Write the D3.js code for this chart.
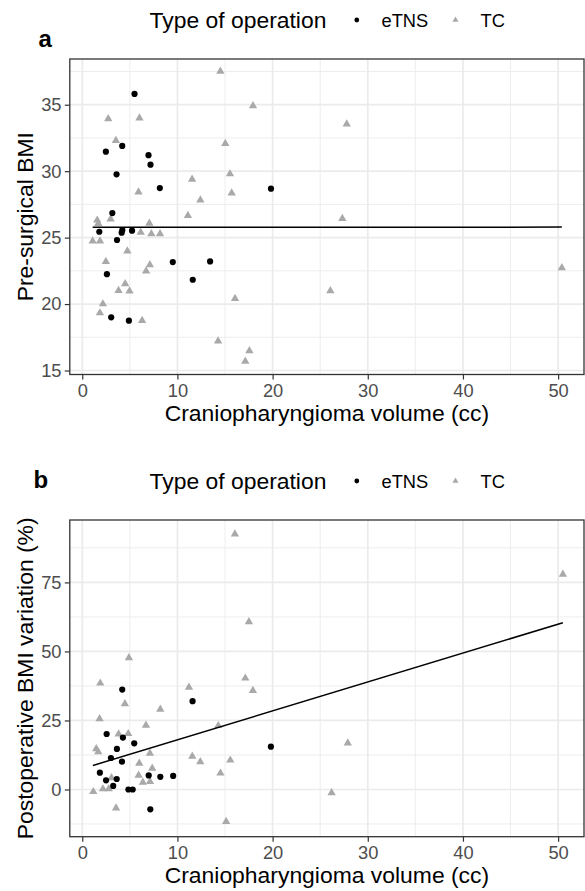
<!DOCTYPE html>
<html lang="en">
<head>
  <meta charset="UTF-8">
  <title>BMI vs craniopharyngioma volume</title>
  <script src="https://d3js.org/d3.v7.min.js"></script>
  <style>
    body { margin: 0; background: #fff; }
    svg { display: block; font-family: "Liberation Sans", Arial, Helvetica, sans-serif; }
  </style>
</head>
<body>
<svg></svg>
<script>
  // panel a: pre-surgical BMI
  const etnsVolA = [5.49, 4.20, 2.48, 6.96, 7.17, 3.60, 8.15, 19.83, 3.16, 1.79,
                    4.21, 4.14, 5.23, 3.65, 9.51, 13.43, 2.59, 11.61, 3.04, 4.90]
  const etnsBmiA = [35.81, 31.90, 31.47, 31.20, 30.49, 29.76, 28.73, 28.68, 26.85, 25.44,
                    25.57, 25.37, 25.52, 24.82, 23.16, 23.21, 22.25, 21.83, 19.00, 18.75]
  const tcVolA = [14.51, 17.94, 2.73, 6.01, 3.53, 15.03, 11.54, 15.52, 5.91, 15.70,
                  12.41, 11.10, 27.79, 27.33, 1.57, 1.68, 2.98, 7.05, 6.14, 7.26,
                  8.17, 1.09, 1.86, 4.74, 2.48, 7.10, 6.71, 4.51, 3.81, 4.97,
                  16.05, 26.07, 50.39, 2.17, 1.85, 6.29, 14.27, 17.56, 17.13]
  const tcBmiA = [37.52, 34.92, 33.94, 33.99, 32.30, 32.08, 29.38, 29.79, 28.43, 28.35,
                  27.82, 26.66, 33.54, 26.44, 26.31, 26.06, 26.40, 26.08, 25.40, 25.29,
                  25.29, 24.74, 24.74, 23.99, 23.19, 22.96, 22.48, 21.52, 21.02, 20.97,
                  20.42, 20.99, 22.73, 20.01, 19.33, 18.75, 17.22, 16.48, 15.69]
  const fitVolA = [1.09, 50.39]
  const fitBmiA = [25.78, 25.79]

  // panel b: postoperative BMI variation (%)
  const etnsVolB = [4.20, 11.59, 2.56, 4.27, 5.46, 3.64, 3.01, 4.17, 19.82, 1.85,
                    2.50, 3.25, 3.62, 6.98, 8.20, 9.55, 4.85, 5.30, 7.15]
  const etnsVarB = [36.2, 32.0, 20.1, 18.8, 16.7, 14.7, 11.4, 10.1, 15.5, 6.1,
                    3.3, 1.3, 3.8, 5.1, 4.6, 4.9, 0, 0, -7.2]
  const tcVolB = [16.04, 17.51, 4.90, 17.13, 1.89, 11.21, 17.93, 4.48, 8.20, 1.82,
                  6.69, 14.29, 3.82, 4.83, 1.47, 1.68, 7.11, 5.99, 11.56, 12.40,
                  15.55, 7.35, 14.52, 3.07, 5.92, 6.37, 7.12, 1.16, 2.17, 2.78,
                  3.55, 15.12, 50.50, 27.90, 26.20]
  const tcVarB = [92.5, 60.7, 47.7, 40.3, 38.5, 37.0, 35.8, 31.0, 29.0, 25.6,
                  23.2, 23.1, 20.1, 20.2, 14.7, 13.6, 13.1, 9.5, 12.0, 10.0,
                  10.6, 7.7, 5.9, 4.2, 5.1, 2.6, 2.9, -0.8, 0.2, 0.2,
                  -6.7, -11.6, 77.9, 16.8, -1.2]
  const fitVolB = [1.12, 50.50]
  const fitVarB = [8.7, 60.4]

  const xTicks = [0, 10, 20, 30, 40, 50]
  const yTicksA = [15, 20, 25, 30, 35]
  const yTicksB = [0, 25, 50, 75]
  const groups = ['eTNS', 'TC']

  const width = 585, height = 891
  const font = '"Liberation Sans", Arial, Helvetica, sans-serif'
  const colour = {eTNS: '#000000', TC: '#A9A9A9'}

  const svg = d3.select('svg')
      .attr('width', width)
      .attr('height', height)
      .attr('viewBox', [0, 0, width, height])

  const x = d3.scaleLinear()
      .domain([-1.31, 52.72])
      .range([69.8, 584])

  const triangle = d3.symbol().type(d3.symbolTriangle)

  function zip(xs, ys) {
    return xs.map((v, i) => ({x: v, y: ys[i]}))
  }

  function minors(ticks, domain) {
    const step = ticks[1] - ticks[0]
    const out = []
    for (let v = ticks[0] - step / 2; v <= ticks[ticks.length - 1] + step; v += step) {
      if (v > domain[0] && v < domain[1]) out.push(v)
    }
    return out
  }

  function panel(opt) {
    const y = d3.scaleLinear().domain(opt.yDomain).range([opt.bottom, opt.top])
    const g = svg.append('g')
    const [x0, x1] = x.range()

    // grid
    const grid = g.append('g').attr('stroke', '#EBEBEB').attr('fill', 'none')
    grid.selectAll('.vmin').data(minors(xTicks, x.domain())).join('line')
        .attr('x1', d => x(d)).attr('x2', d => x(d))
        .attr('y1', opt.top).attr('y2', opt.bottom).attr('stroke-width', 0.9)
    grid.selectAll('.hmin').data(minors(opt.yTicks, opt.yDomain)).join('line')
        .attr('y1', d => y(d)).attr('y2', d => y(d))
        .attr('x1', x0).attr('x2', x1).attr('stroke-width', 0.9)
    grid.selectAll('.vmaj').data(xTicks).join('line')
        .attr('x1', d => x(d)).attr('x2', d => x(d))
        .attr('y1', opt.top).attr('y2', opt.bottom).attr('stroke-width', 1.7)
    grid.selectAll('.hmaj').data(opt.yTicks).join('line')
        .attr('y1', d => y(d)).attr('y2', d => y(d))
        .attr('x1', x0).attr('x2', x1).attr('stroke-width', 1.7)

    // points: TC under eTNS
    g.append('g').selectAll('path').data(zip(opt.tcX, opt.tcY)).join('path')
        .attr('d', triangle.size(30))
        .attr('transform', d => `translate(${x(d.x)},${y(d.y)})`)
        .attr('fill', colour.TC)
    g.append('g').selectAll('circle').data(zip(opt.etX, opt.etY)).join('circle')
        .attr('cx', d => x(d.x)).attr('cy', d => y(d.y)).attr('r', 3.1)
        .attr('fill', colour.eTNS)

    // linear fit
    g.append('path')
        .datum(zip(opt.fitX, opt.fitY))
        .attr('fill', 'none').attr('stroke', '#000').attr('stroke-width', 1.5)
        .attr('d', d3.line().x(d => x(d.x)).y(d => y(d.y)))

    // border
    g.append('rect')
        .attr('x', x0).attr('y', opt.top)
        .attr('width', x1 - x0).attr('height', opt.bottom - opt.top)
        .attr('fill', 'none').attr('stroke', '#333').attr('stroke-width', 1.3)

    // axes
    g.append('g')
        .attr('transform', `translate(0,${opt.bottom})`)
        .call(d3.axisBottom(x).tickValues(xTicks).tickSize(5).tickPadding(4.3))
        .call(a => a.select('.domain').remove())
        .call(a => a.selectAll('line').attr('stroke', '#333').attr('stroke-width', 1.2))
        .call(a => a.selectAll('text').attr('fill', '#4D4D4D')
            .style('font', `18.3px ${font}`))

    g.append('g')
        .attr('transform', `translate(${x0},0)`)
        .call(d3.axisLeft(y).tickValues(opt.yTicks).tickSize(5).tickPadding(3.3))
        .call(a => a.select('.domain').remove())
        .call(a => a.selectAll('line').attr('stroke', '#333').attr('stroke-width', 1.2))
        .call(a => a.selectAll('text').attr('fill', '#4D4D4D')
            .style('font', `18.3px ${font}`))

    // titles
    g.append('text')
        .attr('x', (x0 + x1) / 2).attr('y', opt.bottom + 46.6)
        .attr('text-anchor', 'middle')
        .style('font', `22.9px ${font}`)
        .text('Craniopharyngioma volume (cc)')

    g.append('text')
        .attr('transform', `translate(33,${(opt.top + opt.bottom) / 2}) rotate(-90)`)
        .attr('text-anchor', 'middle')
        .style('font', `22.9px ${font}`)
        .text(opt.yTitle)

    // tag
    g.append('text')
        .attr('x', opt.tagX).attr('y', opt.tagY)
        .style('font', `bold 24px ${font}`)
        .text(opt.tag)

    // legend
    const ly = opt.top - 39
    const lg = g.append('g').attr('transform', `translate(0,${ly})`)
    lg.append('text')
        .attr('x', 149.5).attr('y', 8.2)
        .style('font', `22.9px ${font}`)
        .text('Type of operation')
    const keyX = {eTNS: 356.8, TC: 455.5}
    const labelX = {eTNS: 381.5, TC: 480.5}
    lg.selectAll('.key').data(groups).join('path')
        .attr('d', d => d === 'eTNS'
            ? d3.symbol().type(d3.symbolCircle).size(18)()
            : triangle.size(16)())
        .attr('transform', d => `translate(${keyX[d]},0)`)
        .attr('fill', d => colour[d])
    lg.selectAll('.lab').data(groups).join('text')
        .attr('x', d => labelX[d]).attr('y', 6.5)
        .style('font', `18.3px ${font}`)
        .text(d => d)
  }

  panel({
    top: 59, bottom: 374.5,
    yDomain: [14.70, 38.44], yTicks: yTicksA,
    etX: etnsVolA, etY: etnsBmiA, tcX: tcVolA, tcY: tcBmiA,
    fitX: fitVolA, fitY: fitBmiA,
    yTitle: 'Pre-surgical BMI',
    tag: 'a', tagX: 38.5, tagY: 47
  })

  panel({
    top: 520, bottom: 836.7,
    yDomain: [-17.1, 97.6], yTicks: yTicksB,
    etX: etnsVolB, etY: etnsVarB, tcX: tcVolB, tcY: tcVarB,
    fitX: fitVolB, fitY: fitVarB,
    yTitle: 'Postoperative BMI variation (%)',
    tag: 'b', tagX: 33.5, tagY: 488
  })
</script>
</body>
</html>
